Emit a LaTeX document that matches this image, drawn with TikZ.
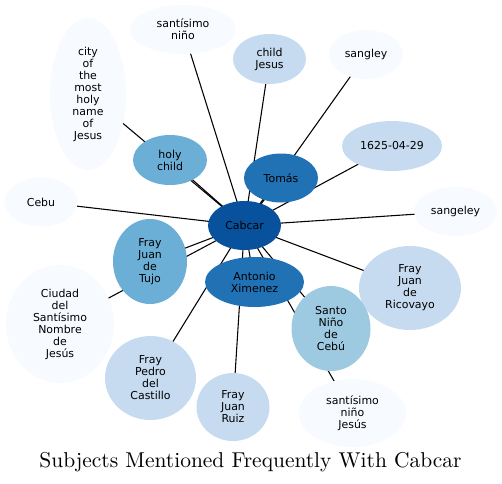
\documentclass[tikz,border=0pt]{standalone}
\usepackage{fontspec}
\newfontfamily\dejavu{DejaVu Sans}
\newfontfamily\titlefont{lmroman10-regular}[Extension=.otf]
\usetikzlibrary{shapes.geometric,backgrounds}

% Blues palette
\definecolor{bluei}{HTML}{08519C}
\definecolor{blueii}{HTML}{2171B5}
\definecolor{blueiii}{HTML}{6BAED6}
\definecolor{blueiv}{HTML}{9ECAE1}
\definecolor{bluev}{HTML}{C6DBEF}
\definecolor{bluevi}{HTML}{F7FBFF}

\begin{document}
\begin{tikzpicture}[x=0.75pt, y=-0.75pt,
    bub/.style 2 args={ellipse, inner sep=0pt, align=center,
      minimum width=#1*1.5pt, minimum height=#2*1.5pt,
      font=\dejavu\fontsize{8.2}{9}\selectfont},
    link/.style={line width=0.8pt}]
    \useasboundingbox (0,0) rectangle (502,483);

    % centre
    \node[bub={36.5}{24.5}, fill=bluei] (cabcar) at (244.5,225.5) {Cabcar};

    % subjects round it
    \node[bub={53}{24.5}, fill=bluevi] (sanNino) at (183,29.5) {santísimo\\niño};
    \node[bub={38}{76}, fill=bluevi] (city) at (88,94) {city\\of\\the\\most\\holy\\name\\of\\Jesus};
    \node[bub={37}{25}, fill=blueiii] (holy) at (170,160) {holy\\child};
    \node[bub={36.5}{25}, fill=bluev] (childJ) at (269.5,59) {child\\Jesus};
    \node[bub={37}{24.5}, fill=bluevi] (sangley) at (366,54.5) {sangley};
    \node[bub={50}{25}, fill=bluev] (fecha) at (392,146) {1625-04-29};
    \node[bub={37}{24.5}, fill=blueii] (tomas) at (281,178) {Tomás};
    \node[bub={36.5}{24.5}, fill=bluevi] (cebu) at (41,202) {Cebu};
    \node[bub={41.5}{24.5}, fill=bluevi] (sangeley) at (455.5,211.5) {sangeley};
    \node[bub={37}{42.5}, fill=blueiii] (tujo) at (150,261.5) {Fray\\Juan\\de\\Tujo};
    \node[bub={49.5}{25}, fill=blueii] (antonio) at (254.5,282) {Antonio\\Ximenez};
    \node[bub={51}{42}, fill=bluev] (ricovayo) at (410,288) {Fray\\Juan\\de\\Ricovayo};
    \node[bub={54}{59}, fill=bluevi] (ciudad) at (60,324) {Ciudad\\del\\Santísimo\\Nombre\\de\\Jesús};
    \node[bub={39.5}{42.5}, fill=blueiv] (santo) at (331,328.5) {Santo\\Niño\\de\\Cebú};
    \node[bub={45.5}{42}, fill=bluev] (castillo) at (150.5,378) {Fray\\Pedro\\del\\Castillo};
    \node[bub={36.5}{34}, fill=bluev] (ruiz) at (233,407) {Fray\\Juan\\Ruiz};
    \node[bub={53.5}{34}, fill=bluevi] (sanJesus) at (352.5,413) {santísimo\\niño\\Jesús};

    % links, under the bubbles
    \begin{scope}[on background layer]
        \foreach \n in {sanNino, city, holy, childJ, sangley, fecha, tomas, cebu,
            sangeley, tujo, antonio, ricovayo, ciudad, santo, castillo, ruiz, sanJesus}
            \draw[link] (cabcar.center) -- (\n.center);
    \end{scope}

    \node[anchor=base, font=\titlefont\fontsize{16.1}{19}\selectfont] (title) at (250.5,467)
        {Subjects Mentioned Frequently With Cabcar};
\end{tikzpicture}
\end{document}
